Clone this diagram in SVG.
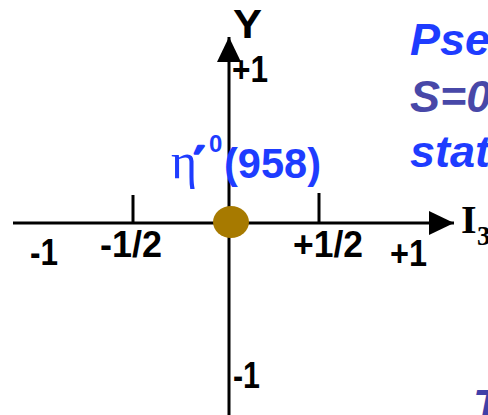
<svg xmlns="http://www.w3.org/2000/svg" width="488" height="415" viewBox="0 0 488 415">
<style>
.ax{stroke:#000;stroke-width:3;fill:none}
.lb{font-family:"Liberation Sans",Arial,sans-serif;font-weight:bold;font-size:36px;fill:#000}
.bl{font-family:"Liberation Sans",Arial,sans-serif;font-weight:bold;font-style:italic;font-size:45px}
</style>
<defs>
<marker id="ah" markerUnits="userSpaceOnUse" markerWidth="26" markerHeight="26" refX="25" refY="12" orient="auto" viewBox="0 0 26 24">
<path d="M0,0 L25,12 L0,24 Z" fill="#000"/>
</marker>
</defs>
<rect width="488" height="415" fill="#fff"/>
<g id="connectors">
<line class="ax" x1="13" y1="223" x2="454" y2="223" marker-end="url(#ah)"/>
<line class="ax" x1="229" y1="415" x2="229" y2="37" marker-end="url(#ah)"/>
<line class="ax" x1="133" y1="195" x2="133" y2="223"/>
<line class="ax" x1="319" y1="193" x2="319" y2="223"/>
</g>
<g id="axis-labels">
<text class="lb" x="233" y="38" textLength="29" lengthAdjust="spacingAndGlyphs" style="font-size:40px">Y</text>
<text class="lb" x="232" y="82" textLength="36" lengthAdjust="spacingAndGlyphs">+1</text>
<text class="lb" x="233" y="388" textLength="27" lengthAdjust="spacingAndGlyphs">-1</text>
<text class="lb" x="30" y="265" textLength="28" lengthAdjust="spacingAndGlyphs">-1</text>
<text class="lb" x="100" y="257" textLength="62" lengthAdjust="spacingAndGlyphs">-1/2</text>
<text class="lb" x="293" y="257" textLength="70" lengthAdjust="spacingAndGlyphs">+1/2</text>
<text class="lb" x="390" y="266" textLength="37" lengthAdjust="spacingAndGlyphs">+1</text>
<text x="461" y="233" font-family="'Liberation Serif','Times New Roman',serif" font-weight="bold" font-size="40" fill="#000">I<tspan font-size="27" x="477" y="245">3</tspan></text>
</g>
<g id="eta-prime">
<ellipse cx="231" cy="222" rx="18" ry="16" fill="#A77A00"/>
<text y="178" fill="#1E3CFF" font-family="'Liberation Sans',Arial,sans-serif" font-weight="bold" font-size="42"><tspan x="171" font-family="'Liberation Serif','Times New Roman',serif" font-weight="normal" font-size="50">η</tspan><tspan x="194" font-family="'DejaVu Sans',sans-serif" font-weight="bold" font-size="40" y="176" stroke="#1E3CFF" stroke-width="2.5" stroke-linejoin="round">′</tspan><tspan x="209" y="152" font-size="24">0</tspan><tspan x="224" y="178" textLength="97" lengthAdjust="spacingAndGlyphs">(958)</tspan></text>
</g>
<g id="side-text">
<text class="bl" x="410" y="55" fill="#1E3CFF">Pse</text>
<text class="bl" x="410" y="112" fill="#4848A8">S=0</text>
<text class="bl" x="410" y="167" fill="#1E3CFF">stat</text>
<text class="bl" x="473" y="421" fill="#4040A8">T</text>
</g>
</svg>
